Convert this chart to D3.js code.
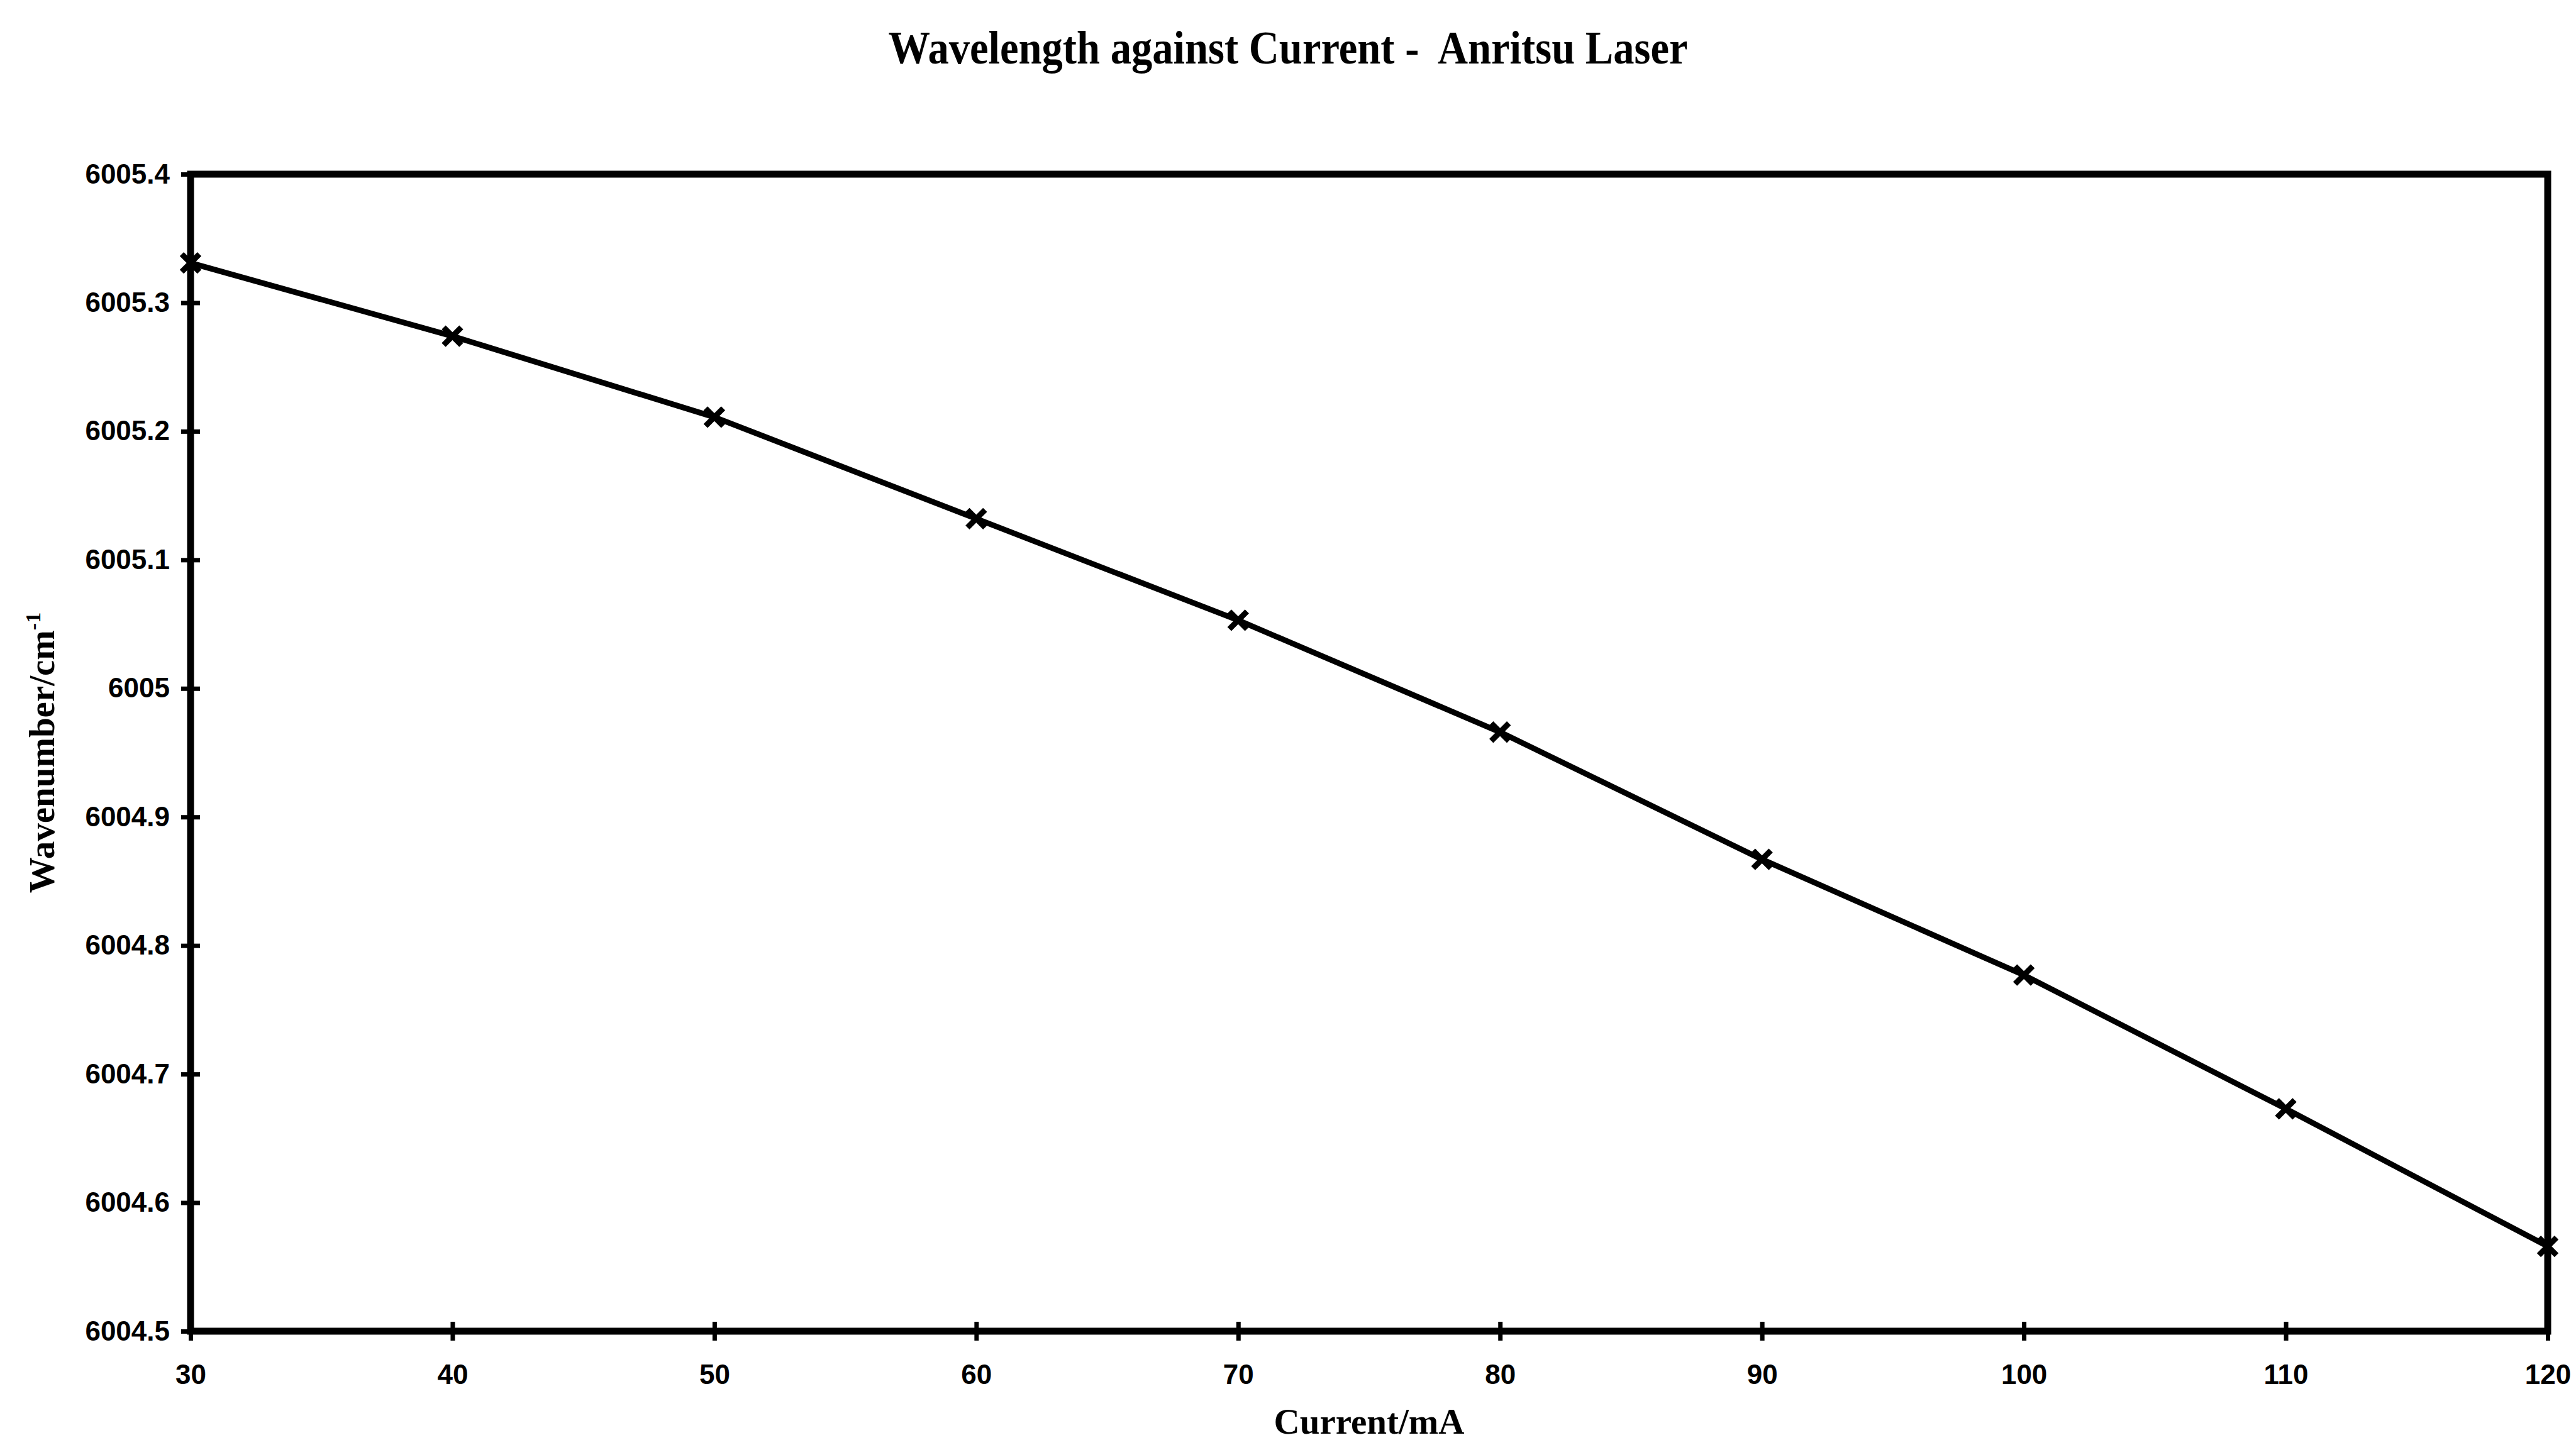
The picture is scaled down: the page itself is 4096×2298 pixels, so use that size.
<!DOCTYPE html>
<html>
<head>
<meta charset="utf-8">
<script src="https://cdn.jsdelivr.net/npm/d3@7"></script>
<style>
  html, body { margin: 0; padding: 0; background: #fff; }
  svg { display: block; }
  text { white-space: pre; }
</style>
</head>
<body>
<script>
// Laser tuning: wavenumber measured at each drive current
const currents = [30, 40, 50, 60, 70, 80, 90, 100, 110, 120];
const wavenumbers = [6005.331, 6005.274, 6005.211, 6005.132, 6005.053,
                     6004.966, 6004.867, 6004.777, 6004.673, 6004.566];

// Axis ticks
const xTicks = [30, 40, 50, 60, 70, 80, 90, 100, 110, 120];
const yTicks = [6004.5, 6004.6, 6004.7, 6004.8, 6004.9, 6005.0,
                6005.1, 6005.2, 6005.3, 6005.4];

const titleText = "Wavelength against Current -  Anritsu Laser";
const xLabel = "Current/mA";
const yLabel = "Wavenumber/cm";
const yLabelSup = "-1";

const W = 4096, H = 2298;
const plot = { left: 303, right: 4051, top: 277, bottom: 2117 };

const svg = d3.select("body").append("svg")
  .attr("width", W).attr("height", H)
  .style("background", "#fff");

const x = d3.scaleLinear().domain([30, 120]).range([plot.left, plot.right]);
const y = d3.scaleLinear().domain([6004.5, 6005.4]).range([plot.bottom, plot.top]);

const serif = "'Liberation Serif', 'Times New Roman', serif";
const sans = "'Liberation Sans', Arial, sans-serif";

// Title
svg.append("text")
  .attr("x", W / 2).attr("y", 101)
  .attr("text-anchor", "middle")
  .attr("font-family", serif).attr("font-weight", "bold")
  .attr("font-size", 74)
  .attr("textLength", 1271).attr("lengthAdjust", "spacingAndGlyphs")
  .text(titleText);

// Plot frame
svg.append("rect")
  .attr("x", plot.left).attr("y", plot.top)
  .attr("width", plot.right - plot.left)
  .attr("height", plot.bottom - plot.top)
  .attr("fill", "none").attr("stroke", "#000").attr("stroke-width", 11);

// Y axis with ticks crossing the frame
const fmtY = d3.format(".1~f");
const yAxis = svg.append("g")
  .attr("transform", `translate(${plot.left},0)`)
  .call(d3.axisLeft(y).tickValues(yTicks).tickFormat(fmtY).tickSize(15).tickPadding(18));
yAxis.select(".domain").remove();
yAxis.selectAll(".tick line").attr("x1", 15).attr("stroke", "#000").attr("stroke-width", 7);
yAxis.selectAll(".tick text")
  .attr("font-family", sans).attr("font-weight", "bold")
  .attr("font-size", 44).attr("fill", "#000");

// X axis with ticks crossing the frame
const xAxis = svg.append("g")
  .attr("transform", `translate(0,${plot.bottom})`)
  .call(d3.axisBottom(x).tickValues(xTicks).tickFormat(d3.format("d")).tickSize(15).tickPadding(0));
xAxis.select(".domain").remove();
xAxis.selectAll(".tick line").attr("y1", -15).attr("stroke", "#000").attr("stroke-width", 7);
xAxis.selectAll(".tick text")
  .attr("font-family", sans).attr("font-weight", "bold")
  .attr("font-size", 44).attr("fill", "#000")
  .attr("dy", null).attr("y", 84);

// Axis titles
svg.append("text")
  .attr("x", (plot.left + plot.right) / 2).attr("y", 2280)
  .attr("text-anchor", "middle")
  .attr("font-family", serif).attr("font-weight", "bold")
  .attr("font-size", 57)
  .text(xLabel);

const yTitle = svg.append("text")
  .attr("transform", `translate(86,${(plot.top + plot.bottom) / 2}) rotate(-90)`)
  .attr("text-anchor", "middle")
  .attr("font-family", serif).attr("font-weight", "bold")
  .attr("font-size", 57);
yTitle.append("tspan").text(yLabel);
yTitle.append("tspan").attr("dy", -22).attr("font-size", 34).text(yLabelSup);

// Data series
const data = currents.map((c, i) => ({ c, w: wavenumbers[i] }));

svg.append("path")
  .datum(data)
  .attr("fill", "none").attr("stroke", "#000").attr("stroke-width", 9)
  .attr("stroke-linejoin", "round")
  .attr("d", d3.line().x(d => x(d.c)).y(d => y(d.w)));

svg.append("g").selectAll("path")
  .data(data)
  .join("path")
  .attr("transform", d => `translate(${x(d.c)},${y(d.w)})`)
  .attr("d", "M-14,-14L14,14M-14,14L14,-14")
  .attr("fill", "none").attr("stroke", "#000").attr("stroke-width", 9);
</script>
</body>
</html>
